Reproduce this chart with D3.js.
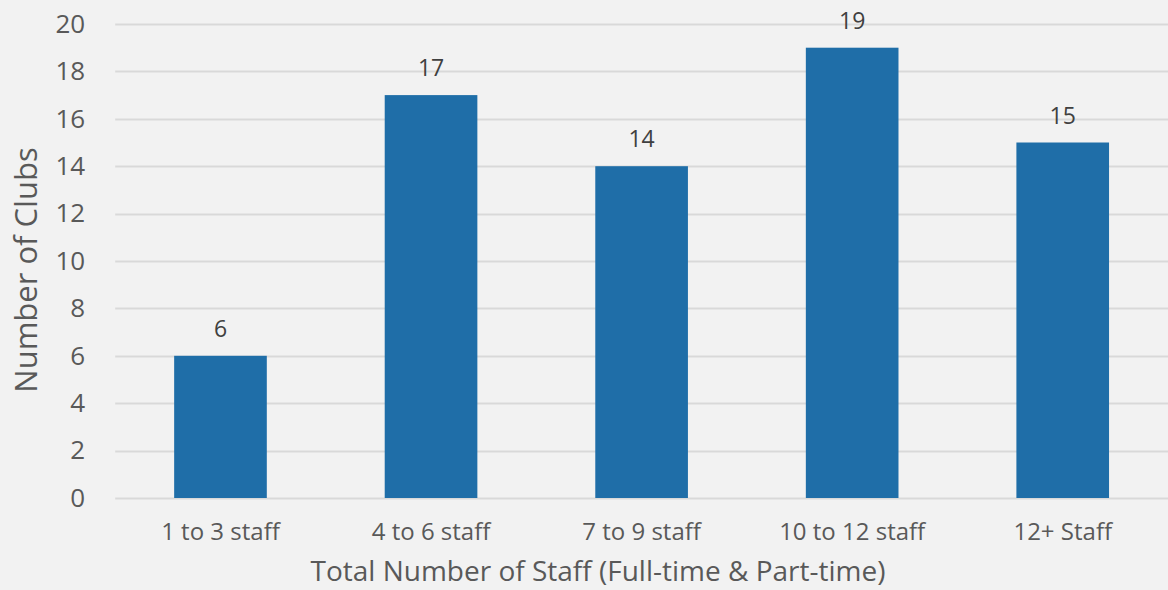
<!DOCTYPE html>
<html><head><meta charset="utf-8">
<script src="https://cdn.jsdelivr.net/npm/d3@7"></script>
<style>html,body{margin:0;padding:0;background:#f2f2f2;}svg{display:block;}</style>
</head><body>
<svg id="chart" width="1168" height="590"></svg>
<script>
const categories = ["1 to 3 staff","4 to 6 staff","7 to 9 staff","10 to 12 staff","12+ Staff"];
const values = [6,17,14,19,15];
const yTicks = [0,2,4,6,8,10,12,14,16,18,20];
const xTitle = "Total Number of Staff (Full-time & Part-time)";
const yTitle = "Number of Clubs";

const svg = d3.select("#chart");
const W = 1168, H = 590;
const m = {left:115.2, right:0, top:24, bottom:92};
svg.append("rect").attr("width",W).attr("height",H).attr("fill","#f2f2f2");
const x = d3.scaleBand().domain(categories).range([m.left, W-m.right]).paddingInner(0.56).paddingOuter(0.28);
const y = d3.scaleLinear().domain([0,20]).range([H-m.bottom, m.top]);
const font = "'Open Sans', 'Noto Sans', sans-serif";

// gridlines
svg.append("g").selectAll("line").data(yTicks).join("line")
  .attr("x1", m.left).attr("x2", W).attr("y1", d=>Math.round(y(d))+0.5).attr("y2", d=>Math.round(y(d))+0.5)
  .attr("stroke","#d9d9d9").attr("stroke-width",2);

// y axis labels
const yAxis = svg.append("g").attr("transform",`translate(${m.left},0)`)
  .call(d3.axisLeft(y).tickValues(yTicks).tickSize(0).tickPadding(30));
yAxis.select(".domain").remove();
yAxis.selectAll("text").attr("font-family",font).attr("font-size",26).attr("fill","#595959");

// bars
svg.append("g").selectAll("rect").data(values).join("rect")
  .attr("x",(d,i)=>x(categories[i])).attr("width",x.bandwidth())
  .attr("y",d=>y(d)).attr("height",d=>y(0)-y(d)).attr("fill","#1f6ea8");

// data labels
svg.append("g").selectAll("text").data(values).join("text")
  .attr("x",(d,i)=>x(categories[i])+x.bandwidth()/2).attr("y",d=>y(d)-19)
  .attr("text-anchor","middle").attr("font-family",font).attr("font-size",23).attr("fill","#404040")
  .text(d=>d);

// x axis
const xAxis = svg.append("g").attr("transform",`translate(0,${y(0)})`)
  .call(d3.axisBottom(x).tickSize(0).tickPadding(25));
xAxis.select(".domain").remove();
xAxis.selectAll("text").attr("font-family",font).attr("font-size",24).attr("fill","#595959");

// titles
svg.append("text").attr("x",598).attr("y",581).attr("text-anchor","middle")
  .attr("font-family",font).attr("font-size",28).attr("fill","#595959").text(xTitle);
svg.append("text").attr("transform","translate(37,270) rotate(-90)").attr("text-anchor","middle")
  .attr("font-family",font).attr("font-size",31).attr("fill","#595959").text(yTitle);
</script>
</body></html>
